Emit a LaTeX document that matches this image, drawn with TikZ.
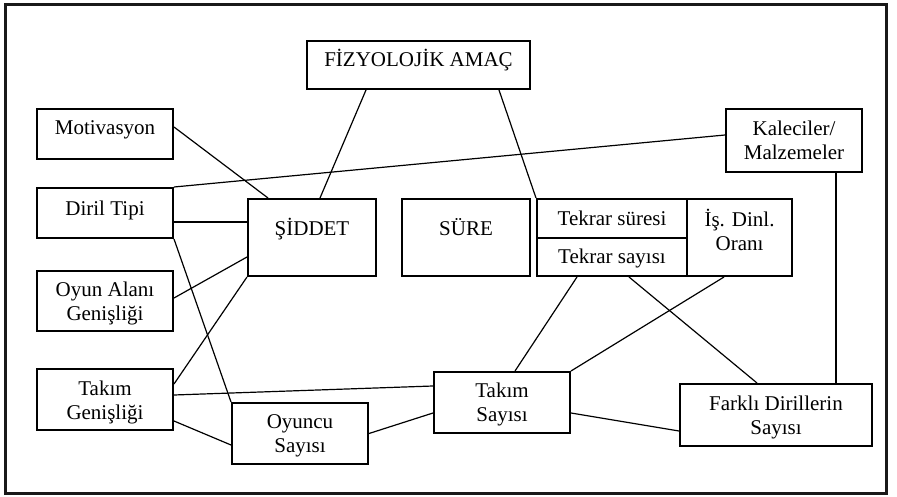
\documentclass[tikz,border=0pt]{standalone}
\usepackage{fontspec}
\setmainfont{Liberation Serif}
\usetikzlibrary{calc}
\newcommand\tx[2]{\raisebox{#1}[0pt][0pt]{\begin{tabular}[t]{@{}c@{}}#2\end{tabular}}}
\begin{document}
\begin{tikzpicture}[x=1pt,y=-1pt,
  box/.style={draw=black,line width=2pt,inner sep=0pt,
    font=\fontsize{21}{24}\selectfont},
  link/.style={draw=black,line width=1.2pt}]
\useasboundingbox (0,0) rectangle (897,497);
\draw[line width=2.6pt,draw=black!90] (5.5,4.5) rectangle (886.5,493.5);
% nodes
\node[box,minimum width=223pt,minimum height=48pt] (fiz) at (418.5,65) {\tx{-2pt}{FİZYOLOJİK AMAÇ}};
\node[box,minimum width=136pt,minimum height=50pt] (mot) at (105,134) {\tx{-1pt}{Motivasyon}};
\node[box,minimum width=136pt,minimum height=50pt] (diril) at (105,213) {\tx{-2.3pt}{Diril Tipi}};
\node[box,minimum width=128pt,minimum height=77pt] (sid) at (312,237.5) {\tx{2.2pt}{ŞİDDET}};
\node[box,minimum width=128pt,minimum height=77pt] (sure) at (466,237.5) {\tx{2.2pt}{SÜRE}};
\node[box,minimum width=150pt,minimum height=39pt] (tsure) at (612,218.5) {\tx{-7.5pt}{Tekrar süresi}};
\node[box,minimum width=150pt,minimum height=38pt] (tsay) at (612,257) {\tx{-7pt}{Tekrar sayısı}};
\node[box,minimum width=105pt,minimum height=77pt] (isd) at (739.5,237.5) {\tx{11pt}{İş. Dinl.\\Oranı}};
\node[box,minimum width=136pt,minimum height=63pt] (kal) at (794,140.5) {\tx{5pt}{Kaleciler/\\Malzemeler}};
\node[box,minimum width=136pt,minimum height=60pt] (oyun) at (105,301) {\tx{4.7pt}{Oyun Alanı\\Genişliği}};
\node[box,minimum width=136pt,minimum height=61pt] (tgen) at (105,399.5) {\tx{3.8pt}{Takım\\Genişliği}};
\node[box,minimum width=136pt,minimum height=61pt] (oyuncu) at (300,433.5) {\tx{5.5pt}{Oyuncu\\Sayısı}};
\node[box,minimum width=136pt,minimum height=61pt] (tsayi) at (502,402.5) {\tx{5pt}{Takım\\Sayısı}};
\node[box,minimum width=192pt,minimum height=62pt] (fark) at (776,415) {\tx{5pt}{Farklı Dirillerin\\Sayısı}};
% connectors
\draw[link] ([xshift=-52.5pt]fiz.south) -- ([xshift=8pt]sid.north);
\draw[link] ([xshift=80.5pt]fiz.south) -- (tsure.north west);
\draw[link] ([yshift=7pt]mot.east) -- ([xshift=21pt]sid.north west);
\draw[link] (diril.north east) -- ([yshift=5.5pt]kal.west);
\draw[link] ([yshift=-9pt]diril.east) -- ([yshift=15.5pt]sid.west);
\draw[link] (diril.south east) -- (oyuncu.north west);
\draw[link] ([yshift=3pt]oyun.east) -- ([yshift=-19.5pt]sid.west);
\draw[link] ([yshift=15.5pt]tgen.east) -- (sid.south west);
\draw[link] ([yshift=4.5pt]tgen.east) -- ([yshift=16.5pt]tsayi.west);
\draw[link] ([yshift=-21.5pt]tgen.east) -- ([yshift=-11.5pt]oyuncu.west);
\draw[link] (oyuncu.east) -- ([yshift=-10.5pt]tsayi.west);
\draw[link] ([yshift=-10.5pt]tsayi.east) -- ([yshift=-16pt]fark.west);
\draw[link] ([xshift=-35pt]tsay.south) -- ([xshift=13pt]tsayi.north);
\draw[link] ([xshift=17pt]tsay.south) -- ([xshift=-19pt]fark.north);
\draw[link] ([xshift=-15.5pt]isd.south) -- (tsayi.north east);
\draw[link] ([xshift=42pt]kal.south) -- ([xshift=60pt]fark.north);
\end{tikzpicture}
\end{document}
